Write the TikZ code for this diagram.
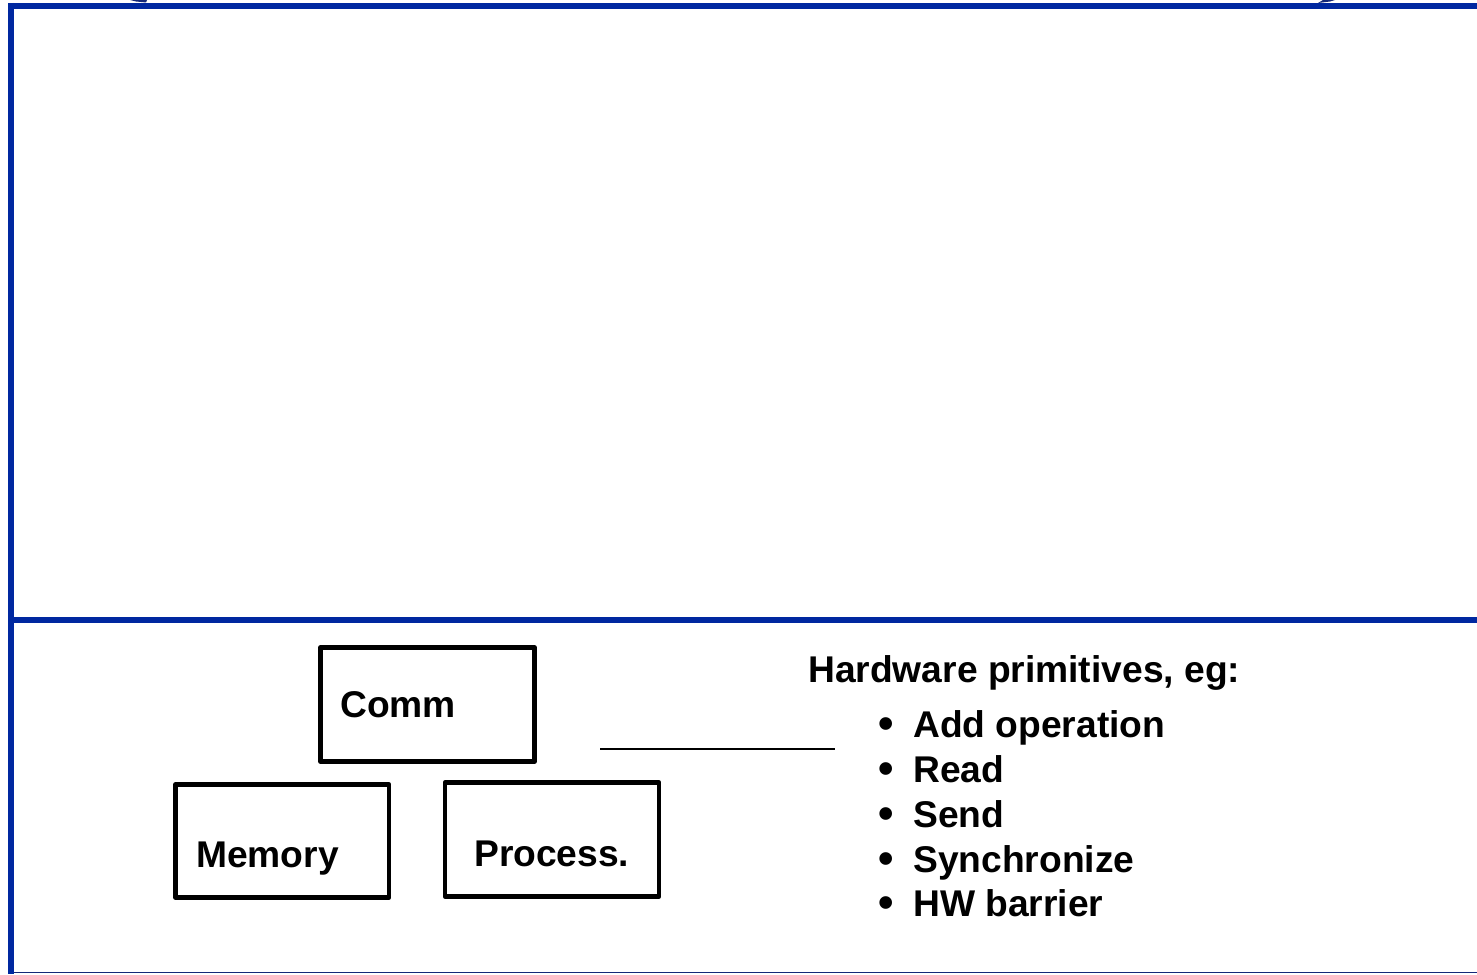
\documentclass[tikz,border=0pt]{standalone}
\usepackage{fontspec}
\setmainfont{Liberation Sans}
\definecolor{rule}{RGB}{0,40,160}
\definecolor{navy}{RGB}{20,40,120}
\begin{document}
\begin{tikzpicture}[x=1pt,y=-1pt,
  unit/.style={draw=black,line width=4.6pt,line join=round},
  label/.style={anchor=base west,inner sep=0pt,font=\fontsize{37.2}{44}\selectfont\bfseries},
  dot/.style={anchor=base,inner sep=0pt,font=\fontsize{44}{44}\selectfont\bfseries},
  frame/.style={draw=rule,line width=6pt}]
\useasboundingbox (0,0) rectangle (1477,974);
\fill[white] (0,0) rectangle (1477,974);

% slide frame
\draw[frame] (1477,6) -- (8,6);
\draw[frame] (11,3) -- (11,974);
\draw[frame] (14,620) -- (1477,620);
\draw[navy,line width=1.5pt] (14,972.5) -- (1477,972.5);

% clipped remnants along the top edge
\fill[navy] (130,0) -- (147,0) -- (146,2.5) -- (136,1.5) -- cycle;
\fill[navy] (1318,3) -- (1323,0) -- (1335,0) -- (1330,1.5) -- cycle;

% component boxes
\draw[unit] (320.5,647.5) rectangle (534.5,761.5);
\draw[unit] (175.5,784.5) rectangle (389,897.5);
\draw[unit] (445,782.5) rectangle (659,896.5);
\node[label] (comm) at (340,717) {Comm};
\node[label] (mem) at (196,867) {Memory};
\node[label] (proc) at (474,866) {Process.};

% separator line
\coordinate (la) at (600,748.5);
\coordinate (lb) at (835,748.5);
\draw[black,line width=2pt] (la) -- (lb);

% list of primitives
\node[label] (head) at (808,682) {Hardware primitives, eg:};
\foreach \y/\t [count=\i] in {737/Add operation,782.5/Read,827.5/Send,872/Synchronize,916.5/HW barrier}{
  \node[dot] (b\i) at (886,\y+1) {\textbullet};
  \node[label] (t\i) at (913,\y) {\t};
}
\end{tikzpicture}
\end{document}
